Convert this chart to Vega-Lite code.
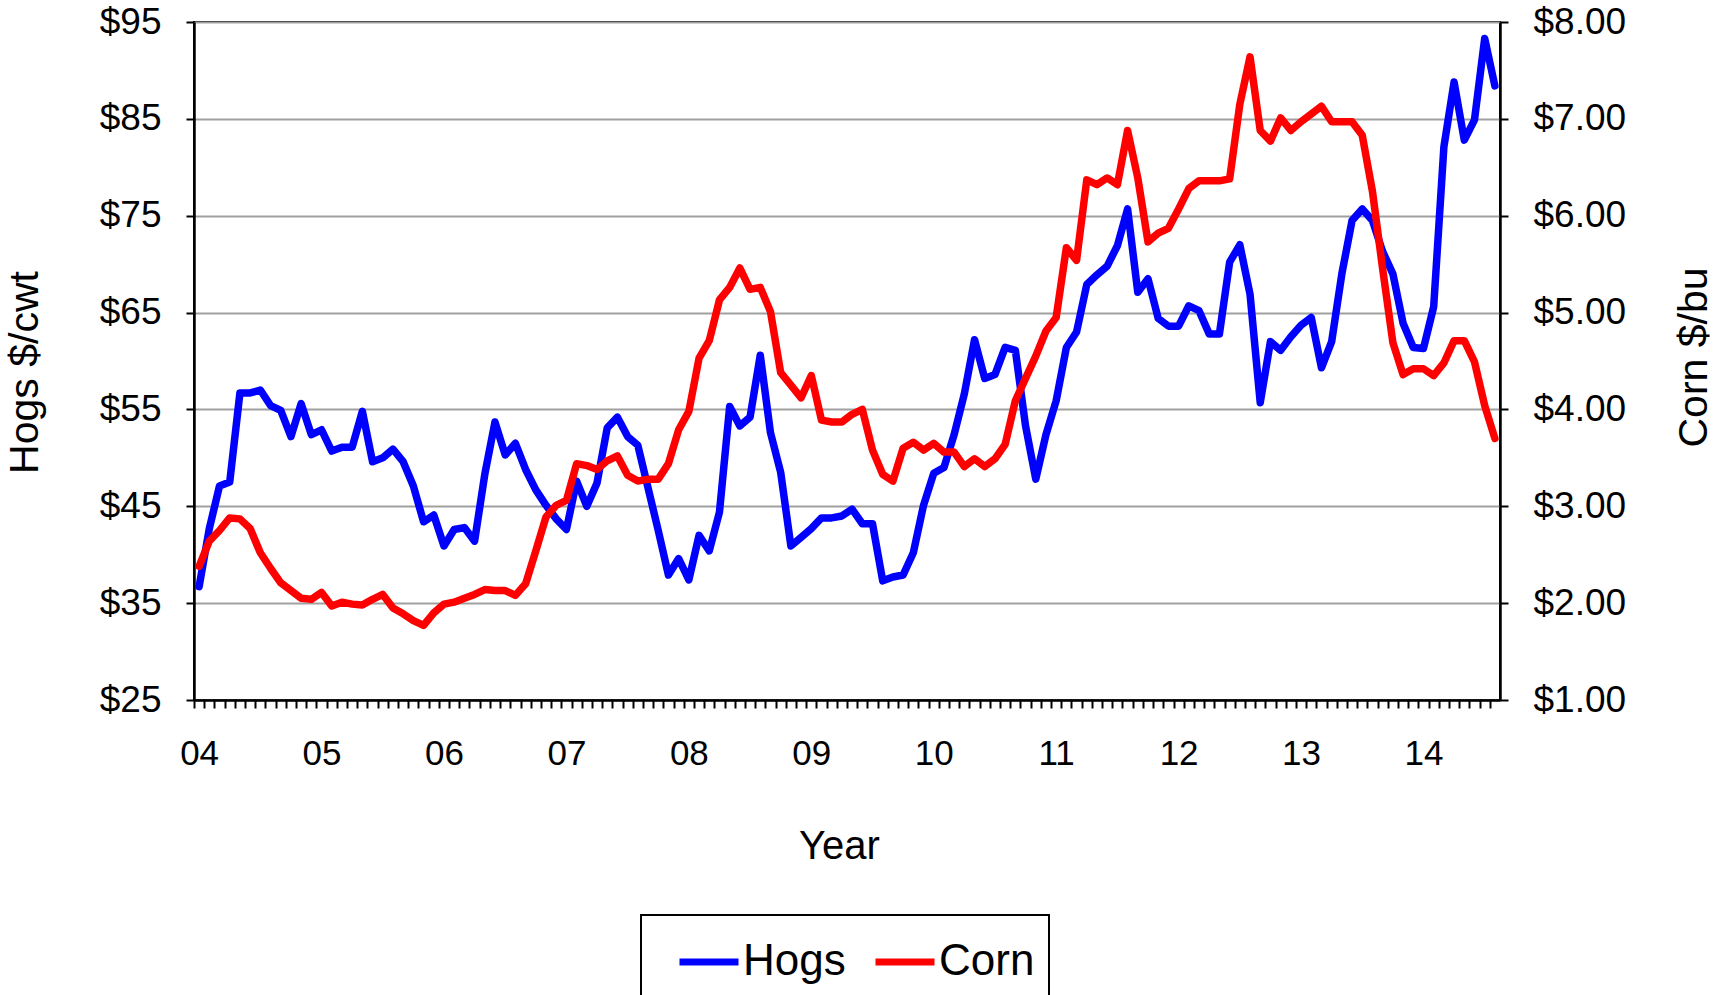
{
  "$schema": "https://vega.github.io/schema/vega-lite/v6.json",
  "width": 1306,
  "height": 678,
  "autosize": {"type": "none"},
  "padding": {"left": 194, "top": 22, "right": 227, "bottom": 295},
  "background": "white",
  "config": {
    "font": "Liberation Sans",
    "view": {"stroke": "black", "strokeWidth": 2},
    "axis": {
      "domainColor": "black",
      "domainWidth": 2.5,
      "tickColor": "black",
      "tickWidth": 2,
      "tickSize": 8,
      "labelColor": "black",
      "titleColor": "black",
      "titleFontWeight": "normal",
      "labelFont": "Liberation Sans",
      "titleFont": "Liberation Sans"
    }
  },
  "data": {
    "values": [
      {"month": "2004-01", "Hogs": 36.7, "Corn": 2.38},
      {"month": "2004-02", "Hogs": 42.7, "Corn": 2.64},
      {"month": "2004-03", "Hogs": 47.1, "Corn": 2.75},
      {"month": "2004-04", "Hogs": 47.5, "Corn": 2.88},
      {"month": "2004-05", "Hogs": 56.7, "Corn": 2.87},
      {"month": "2004-06", "Hogs": 56.7, "Corn": 2.77},
      {"month": "2004-07", "Hogs": 57.0, "Corn": 2.52},
      {"month": "2004-08", "Hogs": 55.4, "Corn": 2.36},
      {"month": "2004-09", "Hogs": 54.9, "Corn": 2.21},
      {"month": "2004-10", "Hogs": 52.2, "Corn": 2.13},
      {"month": "2004-11", "Hogs": 55.6, "Corn": 2.05},
      {"month": "2004-12", "Hogs": 52.4, "Corn": 2.04},
      {"month": "2005-01", "Hogs": 52.9, "Corn": 2.11},
      {"month": "2005-02", "Hogs": 50.7, "Corn": 1.97},
      {"month": "2005-03", "Hogs": 51.1, "Corn": 2.01},
      {"month": "2005-04", "Hogs": 51.1, "Corn": 1.99},
      {"month": "2005-05", "Hogs": 54.8, "Corn": 1.98},
      {"month": "2005-06", "Hogs": 49.6, "Corn": 2.04},
      {"month": "2005-07", "Hogs": 50.0, "Corn": 2.09},
      {"month": "2005-08", "Hogs": 50.9, "Corn": 1.95},
      {"month": "2005-09", "Hogs": 49.6, "Corn": 1.89},
      {"month": "2005-10", "Hogs": 47.1, "Corn": 1.82},
      {"month": "2005-11", "Hogs": 43.4, "Corn": 1.77},
      {"month": "2005-12", "Hogs": 44.1, "Corn": 1.90},
      {"month": "2006-01", "Hogs": 40.9, "Corn": 1.99},
      {"month": "2006-02", "Hogs": 42.6, "Corn": 2.01},
      {"month": "2006-03", "Hogs": 42.8, "Corn": 2.05},
      {"month": "2006-04", "Hogs": 41.4, "Corn": 2.09},
      {"month": "2006-05", "Hogs": 48.3, "Corn": 2.14},
      {"month": "2006-06", "Hogs": 53.7, "Corn": 2.13},
      {"month": "2006-07", "Hogs": 50.3, "Corn": 2.13},
      {"month": "2006-08", "Hogs": 51.5, "Corn": 2.08},
      {"month": "2006-09", "Hogs": 48.8, "Corn": 2.20},
      {"month": "2006-10", "Hogs": 46.7, "Corn": 2.54},
      {"month": "2006-11", "Hogs": 45.1, "Corn": 2.89},
      {"month": "2006-12", "Hogs": 43.7, "Corn": 3.01},
      {"month": "2007-01", "Hogs": 42.6, "Corn": 3.06},
      {"month": "2007-02", "Hogs": 47.6, "Corn": 3.44},
      {"month": "2007-03", "Hogs": 45.0, "Corn": 3.42},
      {"month": "2007-04", "Hogs": 47.4, "Corn": 3.38},
      {"month": "2007-05", "Hogs": 53.1, "Corn": 3.47},
      {"month": "2007-06", "Hogs": 54.2, "Corn": 3.52},
      {"month": "2007-07", "Hogs": 52.2, "Corn": 3.32},
      {"month": "2007-08", "Hogs": 51.3, "Corn": 3.26},
      {"month": "2007-09", "Hogs": 46.9, "Corn": 3.28},
      {"month": "2007-10", "Hogs": 42.5, "Corn": 3.28},
      {"month": "2007-11", "Hogs": 37.9, "Corn": 3.44},
      {"month": "2007-12", "Hogs": 39.6, "Corn": 3.79},
      {"month": "2008-01", "Hogs": 37.4, "Corn": 3.98},
      {"month": "2008-02", "Hogs": 42.0, "Corn": 4.53},
      {"month": "2008-03", "Hogs": 40.4, "Corn": 4.71},
      {"month": "2008-04", "Hogs": 44.4, "Corn": 5.13},
      {"month": "2008-05", "Hogs": 55.3, "Corn": 5.26},
      {"month": "2008-06", "Hogs": 53.3, "Corn": 5.46},
      {"month": "2008-07", "Hogs": 54.2, "Corn": 5.24},
      {"month": "2008-08", "Hogs": 60.6, "Corn": 5.26},
      {"month": "2008-09", "Hogs": 52.6, "Corn": 5.01},
      {"month": "2008-10", "Hogs": 48.5, "Corn": 4.38},
      {"month": "2008-11", "Hogs": 40.9, "Corn": 4.25},
      {"month": "2008-12", "Hogs": 41.8, "Corn": 4.12},
      {"month": "2009-01", "Hogs": 42.7, "Corn": 4.35},
      {"month": "2009-02", "Hogs": 43.8, "Corn": 3.89},
      {"month": "2009-03", "Hogs": 43.8, "Corn": 3.87},
      {"month": "2009-04", "Hogs": 44.0, "Corn": 3.87},
      {"month": "2009-05", "Hogs": 44.7, "Corn": 3.95},
      {"month": "2009-06", "Hogs": 43.2, "Corn": 4.00},
      {"month": "2009-07", "Hogs": 43.2, "Corn": 3.58},
      {"month": "2009-08", "Hogs": 37.3, "Corn": 3.33},
      {"month": "2009-09", "Hogs": 37.7, "Corn": 3.26},
      {"month": "2009-10", "Hogs": 37.9, "Corn": 3.60},
      {"month": "2009-11", "Hogs": 40.2, "Corn": 3.66},
      {"month": "2009-12", "Hogs": 45.1, "Corn": 3.58},
      {"month": "2010-01", "Hogs": 48.4, "Corn": 3.65},
      {"month": "2010-02", "Hogs": 49.0, "Corn": 3.56},
      {"month": "2010-03", "Hogs": 52.4, "Corn": 3.56},
      {"month": "2010-04", "Hogs": 56.6, "Corn": 3.41},
      {"month": "2010-05", "Hogs": 62.2, "Corn": 3.49},
      {"month": "2010-06", "Hogs": 58.2, "Corn": 3.41},
      {"month": "2010-07", "Hogs": 58.6, "Corn": 3.49},
      {"month": "2010-08", "Hogs": 61.4, "Corn": 3.64},
      {"month": "2010-09", "Hogs": 61.1, "Corn": 4.09},
      {"month": "2010-10", "Hogs": 53.3, "Corn": 4.32},
      {"month": "2010-11", "Hogs": 47.8, "Corn": 4.55},
      {"month": "2010-12", "Hogs": 52.4, "Corn": 4.81},
      {"month": "2011-01", "Hogs": 55.9, "Corn": 4.95},
      {"month": "2011-02", "Hogs": 61.4, "Corn": 5.67},
      {"month": "2011-03", "Hogs": 63.0, "Corn": 5.54},
      {"month": "2011-04", "Hogs": 67.9, "Corn": 6.37},
      {"month": "2011-05", "Hogs": 68.9, "Corn": 6.32},
      {"month": "2011-06", "Hogs": 69.8, "Corn": 6.39},
      {"month": "2011-07", "Hogs": 71.9, "Corn": 6.32},
      {"month": "2011-08", "Hogs": 75.7, "Corn": 6.88},
      {"month": "2011-09", "Hogs": 67.1, "Corn": 6.39},
      {"month": "2011-10", "Hogs": 68.5, "Corn": 5.73},
      {"month": "2011-11", "Hogs": 64.4, "Corn": 5.82},
      {"month": "2011-12", "Hogs": 63.6, "Corn": 5.87},
      {"month": "2012-01", "Hogs": 63.6, "Corn": 6.07},
      {"month": "2012-02", "Hogs": 65.7, "Corn": 6.28},
      {"month": "2012-03", "Hogs": 65.2, "Corn": 6.36},
      {"month": "2012-04", "Hogs": 62.8, "Corn": 6.36},
      {"month": "2012-05", "Hogs": 62.8, "Corn": 6.36},
      {"month": "2012-06", "Hogs": 70.2, "Corn": 6.38},
      {"month": "2012-07", "Hogs": 72.0, "Corn": 7.15},
      {"month": "2012-08", "Hogs": 66.9, "Corn": 7.64},
      {"month": "2012-09", "Hogs": 55.7, "Corn": 6.88},
      {"month": "2012-10", "Hogs": 62.0, "Corn": 6.77},
      {"month": "2012-11", "Hogs": 61.1, "Corn": 7.01},
      {"month": "2012-12", "Hogs": 62.5, "Corn": 6.88},
      {"month": "2013-01", "Hogs": 63.7, "Corn": 6.97},
      {"month": "2013-02", "Hogs": 64.5, "Corn": 7.05},
      {"month": "2013-03", "Hogs": 59.3, "Corn": 7.13},
      {"month": "2013-04", "Hogs": 62.0, "Corn": 6.97},
      {"month": "2013-05", "Hogs": 69.0, "Corn": 6.97},
      {"month": "2013-06", "Hogs": 74.5, "Corn": 6.97},
      {"month": "2013-07", "Hogs": 75.7, "Corn": 6.83},
      {"month": "2013-08", "Hogs": 74.5, "Corn": 6.25},
      {"month": "2013-09", "Hogs": 71.3, "Corn": 5.45},
      {"month": "2013-10", "Hogs": 69.0, "Corn": 4.69},
      {"month": "2013-11", "Hogs": 63.9, "Corn": 4.36},
      {"month": "2013-12", "Hogs": 61.4, "Corn": 4.42},
      {"month": "2014-01", "Hogs": 61.3, "Corn": 4.42},
      {"month": "2014-02", "Hogs": 65.6, "Corn": 4.35},
      {"month": "2014-03", "Hogs": 82.1, "Corn": 4.48},
      {"month": "2014-04", "Hogs": 88.8, "Corn": 4.71},
      {"month": "2014-05", "Hogs": 82.8, "Corn": 4.71},
      {"month": "2014-06", "Hogs": 84.9, "Corn": 4.49},
      {"month": "2014-07", "Hogs": 93.3, "Corn": 4.04},
      {"month": "2014-08", "Hogs": 88.4, "Corn": 3.70}
    ]
  },
  "encoding": {
    "x": {
      "field": "month",
      "type": "ordinal",
      "scale": {"type": "point", "padding": 0.5},
      "axis": {
        "title": "Year",
        "titleFontSize": 40,
        "titleX": 645,
        "titleY": 158,
        "titleBaseline": "alphabetic",
        "titleAlign": "center",
        "labelAngle": 0,
        "labelFontSize": 35,
        "labelPadding": 28,
        "labelOverlap": false,
        "labelBound": false,
        "labelFlush": false,
        "tickOffset": -5.1,
        "labelOffset": 5.1,
        "grid": false,
        "labelExpr": "substring(datum.value, 5, 7) == '01' ? substring(datum.value, 2, 4) : ''"
      }
    }
  },
  "layer": [
    {
      "mark": {"type": "line", "strokeWidth": 7.5, "strokeJoin": "round", "strokeCap": "round"},
      "encoding": {
        "y": {
          "field": "Hogs",
          "type": "quantitative",
          "scale": {"domain": [25, 95], "nice": false, "zero": false},
          "axis": {
            "orient": "left",
            "title": "Hogs $/cwt",
            "titleFontSize": 41,
            "titleAngle": -90,
            "titleBaseline": "alphabetic",
            "titleAlign": "center",
            "titleX": -157,
            "titleY": 350,
            "values": [25, 35, 45, 55, 65, 75, 85, 95],
            "labelExpr": "'$' + datum.value",
            "labelFontSize": 37,
            "labelPadding": 25,
            "grid": true,
            "gridColor": "#a0a0a0",
            "gridWidth": 2
          }
        },
        "color": {
          "datum": "Hogs",
          "type": "nominal",
          "scale": {"domain": ["Hogs", "Corn"], "range": ["#0000ff", "#ff0000"]},
          "legend": {
            "title": null,
            "orient": "none",
            "direction": "horizontal",
            "legendX": 447,
            "legendY": 893,
            "symbolType": "stroke",
            "symbolSize": 3481,
            "symbolStrokeWidth": 7,
            "symbolOffset": 21,
            "labelFontSize": 44,
            "labelColor": "black",
            "labelFont": "Liberation Sans",
            "labelOffset": 1,
            "labelLimit": 300,
            "columnPadding": 5,
            "padding": 14,
            "strokeColor": "black",
            "fillColor": "white",
            "encode": {"legend": {"update": {"strokeWidth": {"value": 2}}}}
          }
        }
      }
    },
    {
      "mark": {"type": "line", "strokeWidth": 7.5, "strokeJoin": "round", "strokeCap": "round"},
      "encoding": {
        "y": {
          "field": "Corn",
          "type": "quantitative",
          "scale": {"domain": [1, 8], "nice": false, "zero": false},
          "axis": {
            "orient": "right",
            "title": "Corn $/bu",
            "titleFontSize": 41,
            "titleAngle": -90,
            "titleBaseline": "alphabetic",
            "titleAlign": "center",
            "titleX": 206,
            "titleY": 335,
            "values": [1, 2, 3, 4, 5, 6, 7, 8],
            "labelExpr": "'$' + format(datum.value, '.2f')",
            "labelFontSize": 37,
            "labelPadding": 25,
            "grid": false
          }
        },
        "color": {"datum": "Corn", "type": "nominal"}
      }
    }
  ],
  "resolve": {"scale": {"y": "independent"}}
}
